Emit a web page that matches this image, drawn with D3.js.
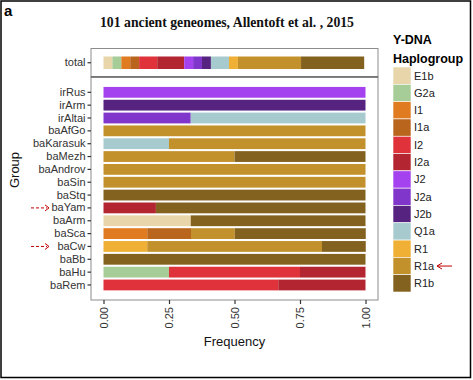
<!DOCTYPE html>
<html><head><meta charset="utf-8">
<script src="https://cdn.jsdelivr.net/npm/d3@7"></script>
<style>body{margin:0;background:#fff}svg{display:block}</style>
</head><body><svg id="c" width="473" height="380"></svg>
<script>
const haplogroups = ["E1b","G2a","I1","I1a","I2","I2a","J2","J2a","J2b","Q1a","R1","R1a","R1b"];
const colors = ["#E8D5AA","#A6CC98","#E07B22","#B9651E","#E0323A","#B32530","#A542F0","#8036CB","#562381","#A7CACE","#EFB035","#C3912B","#83621F"];
const groups = ["irRus","irArm","irAltai","baAfGo","baKarasuk","baMezh","baAndrov","baSin","baStq","baYam","baArm","baSca","baCw","baBb","baHu","baRem"];
// per-haplogroup frequency in each group (same order as groups)
const E1b = [0,0,0,0,0,0,0,0,0,0,0.333,0,0,0,0,0];
const G2a = [0,0,0,0,0,0,0,0,0,0,0,0,0,0,0.25,0];
const I1  = [0,0,0,0,0,0,0,0,0,0,0,0.167,0,0,0,0];
const I1a = [0,0,0,0,0,0,0,0,0,0,0,0.167,0,0,0,0];
const I2  = [0,0,0,0,0,0,0,0,0,0,0,0,0,0,0.5,0.667];
const I2a = [0,0,0,0,0,0,0,0,0,0.2,0,0,0,0,0.25,0.333];
const J2  = [1,0,0,0,0,0,0,0,0,0,0,0,0,0,0,0];
const J2a = [0,0,0.333,0,0,0,0,0,0,0,0,0,0,0,0,0];
const J2b = [0,1,0,0,0,0,0,0,0,0,0,0,0,0,0,0];
const Q1a = [0,0,0.667,0,0.25,0,0,0,0,0,0,0,0,0,0,0];
const R1  = [0,0,0,0,0,0,0,0,0,0,0,0,0.167,0,0,0];
const R1a = [0,0,0,1,0.75,0.5,1,1,0,0,0,0.167,0.667,0,0,0];
const R1b = [0,0,0,0,0,0.5,0,0,1,0.8,0.667,0.5,0.167,1,0,0];
const totalFreq = [0.034,0.034,0.034,0.034,0.069,0.103,0.034,0.034,0.034,0.069,0.034,0.241,0.241];
const xTicks = [0,0.25,0.5,0.75,1];
const markedGroups = ["baYam","baCw"];
const markedHaplo = "R1a";

const series = {E1b,G2a,I1,I1a,I2,I2a,J2,J2a,J2b,Q1a,R1,R1a,R1b};
const table = groups.map((g,i)=>{const o={group:g}; haplogroups.forEach(h=>o[h]=series[h][i]); return o;});
const totalRow = {group:"total"}; haplogroups.forEach((h,i)=>totalRow[h]=totalFreq[i]);

const svg = d3.select("#c");
const color = d3.scaleOrdinal(haplogroups, colors);
const x = d3.scaleLinear([0,1],[103.5,365.5]);
const y = d3.scaleBand(groups,[85.9,291.4]).paddingInner(0.16).paddingOuter(0.08);
const yT = d3.scaleBand(["total"],[56.5,69]).padding(0);
const stack = d3.stack().keys(haplogroups);
const font = "'Liberation Sans', Arial, sans-serif";

// outer border
svg.append("rect").attr("x",1).attr("y",1).attr("width",469.5).attr("height",376.5)
  .attr("fill","none").attr("stroke","#000").attr("stroke-width",1.5);

// panels
svg.append("rect").attr("x",91).attr("y",48.5).attr("width",287).attr("height",28.5).attr("fill","#fff").attr("stroke","#8c8c8c");
svg.append("rect").attr("x",91).attr("y",77).attr("width",287).attr("height",223).attr("fill","#fff").attr("stroke","#8c8c8c");
svg.append("line").attr("x1",91).attr("x2",378).attr("y1",77).attr("y2",77).attr("stroke","#444").attr("stroke-width",1.2);

// main bars
const layers = stack(table);
svg.append("g").selectAll("g").data(layers).join("g").attr("fill",d=>color(d.key))
  .selectAll("rect").data(d=>d.filter(s=>s[1]-s[0]>0)).join("rect")
  .attr("x",d=>x(d[0])).attr("width",d=>x(d[1])-x(d[0]))
  .attr("y",d=>y(d.data.group)).attr("height",y.bandwidth());

// total bar
const tl = stack([totalRow]);
svg.append("g").selectAll("rect").data(tl).join("rect").attr("fill",d=>color(d.key))
  .attr("x",d=>x(d[0][0])).attr("width",d=>x(d[0][1])-x(d[0][0]))
  .attr("y",yT("total")).attr("height",yT.bandwidth());

// y axes
function styleAxis(g){
  g.select(".domain").remove();
  g.selectAll(".tick line").attr("stroke","#333").attr("stroke-width",1.2);
  g.selectAll(".tick text").attr("fill","#333").style("font-family",font).style("font-size","11px");
}
svg.append("g").attr("transform","translate(91,0)").call(d3.axisLeft(y).tickSize(3.5).tickPadding(2)).call(styleAxis);
svg.append("g").attr("transform","translate(91,0)").call(d3.axisLeft(yT).tickSize(3.5).tickPadding(2)).call(styleAxis);

// x axis
const xa = svg.append("g").attr("transform","translate(0,300)")
  .call(d3.axisBottom(x).tickValues(xTicks).tickFormat(d3.format(".2f")).tickSize(4).tickPadding(2)).call(styleAxis);
xa.selectAll(".tick text").attr("transform","rotate(-90)").attr("text-anchor","end")
  .attr("x",-7).attr("y",0).attr("dy","0.35em");

// labels
svg.append("text").attr("x",234.5).attr("y",346).attr("text-anchor","middle")
  .style("font-family",font).style("font-size","13px").attr("fill","#111").text("Frequency");
svg.append("text").attr("transform","translate(19,170) rotate(-90)").attr("text-anchor","middle")
  .style("font-family",font).style("font-size","13px").attr("fill","#111").text("Group");
svg.append("text").attr("x",227).attr("y",27).attr("text-anchor","middle")
  .style("font-family","'Liberation Serif', 'DejaVu Serif', serif").style("font-size","14px").style("font-weight","bold")
  .attr("textLength",254).attr("lengthAdjust","spacingAndGlyphs").attr("fill","#111")
  .text("101 ancient geneomes, Allentoft et al. , 2015");
svg.append("text").attr("x",4).attr("y",16).style("font-family",font).style("font-size","15px").style("font-weight","bold").text("a");

// legend
const lg = svg.append("g");
lg.append("text").attr("x",393).attr("y",44).style("font-family",font).style("font-size","12.5px").style("font-weight","bold").text("Y-DNA");
lg.append("text").attr("x",393).attr("y",63).style("font-family",font).style("font-size","12.5px").style("font-weight","bold").text("Haplogroup");
const ly = d3.scaleBand(haplogroups,[67,292]);
const items = lg.selectAll("g.it").data(haplogroups).join("g").attr("class","it");
items.append("rect").attr("x",393).attr("y",d=>ly(d)).attr("width",18).attr("height",ly.bandwidth()).attr("fill",d=>color(d))
  .attr("stroke","#fff").attr("stroke-width",0.6);
items.append("text").attr("x",414).attr("y",d=>ly(d)+ly.bandwidth()/2).attr("dy","0.35em")
  .style("font-family",font).style("font-size","11px").attr("fill","#222").text(d=>d);

// red arrows
const red = "#c00000";
const ry = ly(markedHaplo)+ly.bandwidth()/2;
lg.append("path").attr("d",`M437,${ry} L452,${ry} M442,${ry-3} L437,${ry} L442,${ry+3}`).attr("fill","none").attr("stroke",red).attr("stroke-width",1);
markedGroups.forEach(g=>{
  const cy = y(g)+y.bandwidth()/2;
  svg.append("path").attr("d",`M31,${cy} L47,${cy}`).attr("stroke",red).attr("stroke-width",1).attr("stroke-dasharray","3,2");
  svg.append("path").attr("d",`M45,${cy-3} L49,${cy} L45,${cy+3}`).attr("fill","none").attr("stroke",red).attr("stroke-width",1);
});
</script></body></html>
